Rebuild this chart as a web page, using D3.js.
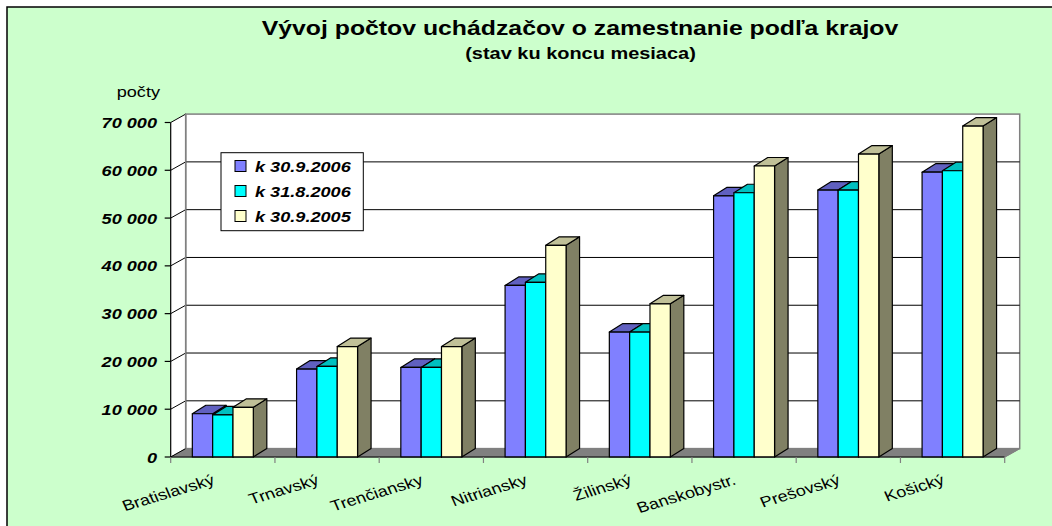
<!DOCTYPE html>
<html><head><meta charset="utf-8">
<script src="https://cdn.jsdelivr.net/npm/d3@7"></script>
<style>html,body{margin:0;padding:0;background:#fff;}svg{display:block;}</style>
</head><body>
<script>
const categories = ["Bratislavský","Trnavský","Trenčiansky","Nitriansky","Žilinský","Banskobystr.","Prešovský","Košický"];
const seriesNames = ["k 30.9.2006","k 31.8.2006","k 30.9.2005"];
const s2006sep = [9050, 18400, 18750, 35900, 26150, 54650, 55850, 59600];
const s2006aug = [8800, 18950, 18750, 36550, 26150, 55300, 55850, 59900];
const s2005sep = [10400, 23100, 23100, 44300, 32050, 60900, 63400, 69250];
const yTicks = [0,10000,20000,30000,40000,50000,60000,70000];
const title = "Vývoj počtov uchádzačov o zamestnanie podľa krajov";
const subtitle = "(stav ku koncu mesiaca)";
const yAxisTitle = "počty";

const series = [s2006sep, s2006aug, s2005sep];
const colors = [
  {front:"#8080FF", top:"#6060C0", side:"#40407F"},
  {front:"#00FFFF", top:"#00C0C0", side:"#008080"},
  {front:"#FFFFCC", top:"#C0C098", side:"#808064"}
];
const W = 1052, H = 526, SX = 1.21;
const FONT = "'Liberation Sans', Arial, sans-serif";
const svg = d3.select("body").append("svg").attr("width", W).attr("height", H);

// frame
svg.append("rect").attr("x",7).attr("y",7).attr("width",1070).attr("height",540)
  .attr("fill","#CCFFCC").attr("stroke","#000").attr("stroke-width",1.5);

const x0 = 170.7, x1 = 1004.7, yBase = 457, yTopPx = 122.5;
const wdx = 15, wdy = -8.4;   // wall depth
const bdx = 13.5, bdy = -8.5; // bar depth

const y = d3.scaleLinear().domain([0,70000]).range([yBase, yTopPx]);
const xb = d3.scaleBand().domain(categories).range([x0,x1]).paddingInner(0.415).paddingOuter(0.2075);
const xs = d3.scaleBand().domain(d3.range(series.length)).range([0, xb.bandwidth()]);

function stext(g, x, yy, str, o) {
  const t = g.append("text").attr("transform", `translate(${x},${yy}) scale(${SX},1)` + (o.rot ? ` rotate(${o.rot})` : ""))
    .attr("font-family", FONT).attr("font-size", o.size).attr("fill", "#000")
    .attr("text-anchor", o.anchor || "start").text(str);
  if (o.bold) t.attr("font-weight", "bold");
  if (o.italic) t.attr("font-style", "italic");
  return t;
}

// titles
stext(svg, 580, 35, title, {size:20.5, bold:true, anchor:"middle"});
stext(svg, 580.5, 59, subtitle, {size:16.5, bold:true, anchor:"middle"});
stext(svg, 160, 97, yAxisTitle, {size:15, anchor:"end"});

const yMax = y(70000);
// side wall
svg.append("path").attr("d", `M${x0},${yBase}L${x0},${yMax}L${x0+wdx},${yMax+wdy}L${x0+wdx},${yBase+wdy}Z`).attr("fill","#fff");
// back wall
svg.append("rect").attr("x", x0+wdx).attr("y", yMax+wdy).attr("width", x1-x0).attr("height", yBase-yMax)
  .attr("fill","#fff").attr("stroke","#808080").attr("stroke-width",1.5);
// floor
svg.append("path").attr("d", `M${x0},${yBase}L${x0+wdx},${yBase+wdy}L${x1+wdx},${yBase+wdy}L${x1},${yBase}Z`)
  .attr("fill","#808080").attr("stroke","#808080");
// gridlines
const grid = svg.append("g");
yTicks.filter(v => v > 0 && v < 70000).forEach(v => {
  grid.append("line").attr("x1", x0+wdx).attr("x2", x1+wdx).attr("y1", y(v)+wdy).attr("y2", y(v)+wdy)
    .attr("stroke","#000").attr("stroke-width",1);
});
yTicks.forEach(v => {
  grid.append("line").attr("x1", x0).attr("x2", x0+wdx).attr("y1", y(v)).attr("y2", y(v)+wdy)
    .attr("stroke","#000").attr("stroke-width",1);
});
// back wall left edge gray
svg.append("line").attr("x1",x0+wdx).attr("x2",x0+wdx).attr("y1",yMax+wdy).attr("y2",yBase+wdy).attr("stroke","#808080").attr("stroke-width",1.5);

// bars
const bars = svg.append("g");
categories.forEach((c, i) => {
  series.forEach((s, k) => {
    const v = s[i];
    const bx = xb(c) + xs(k), bw = xs.bandwidth();
    const top = y(v), col = colors[k];
    const g = bars.append("g").attr("stroke","#000").attr("stroke-width",1.2).attr("stroke-linejoin","round");
    g.append("path").attr("d", `M${bx+bw},${yBase}L${bx+bw+bdx},${yBase+bdy}L${bx+bw+bdx},${top+bdy}L${bx+bw},${top}Z`).attr("fill", col.side);
    g.append("path").attr("d", `M${bx},${top}L${bx+bdx},${top+bdy}L${bx+bw+bdx},${top+bdy}L${bx+bw},${top}Z`).attr("fill", col.top);
    g.append("rect").attr("x", bx).attr("y", top).attr("width", bw).attr("height", yBase-top).attr("fill", col.front);
  });
});

// axes
const ax = svg.append("g").attr("stroke","#000").attr("stroke-width",1.2);
ax.append("line").attr("x1",x0).attr("x2",x0).attr("y1",yBase).attr("y2",yMax);
ax.append("line").attr("x1",x0).attr("x2",x1).attr("y1",yBase).attr("y2",yBase);
ax.append("line").attr("x1",x1).attr("x2",x1+wdx).attr("y1",yBase).attr("y2",yBase+wdy).attr("stroke","#808080");
yTicks.forEach(v => {
  ax.append("line").attr("x1",x0-6).attr("x2",x0).attr("y1",y(v)).attr("y2",y(v));
  stext(svg, 157, y(v)+5.5, d3.format(",")(v).replace(/,/g," "), {size:15, bold:true, italic:true, anchor:"end"});
});
const step = xb.step();
d3.range(categories.length+1).forEach(i => {
  const xx = x0 + i*step;
  ax.append("line").attr("x1",xx).attr("x2",xx).attr("y1",yBase).attr("y2",yBase+6).attr("stroke","#808080");
});
categories.forEach(c => {
  const cx = xb(c) + xb.bandwidth()/2;
  stext(svg, cx-7, 484, c, {size:15, anchor:"end", rot:-20});
});

// legend
const lg = svg.append("g");
lg.append("rect").attr("x",221).attr("y",152.7).attr("width",142.3).attr("height",78).attr("fill","#fff").attr("stroke","#000").attr("stroke-width",1);
seriesNames.forEach((n, k) => {
  const cy = 166 + k*25;
  lg.append("rect").attr("x",235).attr("y",cy-5.5).attr("width",11).attr("height",11).attr("fill",colors[k].front).attr("stroke","#000").attr("stroke-width",1);
  stext(lg, 255, cy+5.5, n, {size:15, bold:true, italic:true});
});
</script>
</body></html>
